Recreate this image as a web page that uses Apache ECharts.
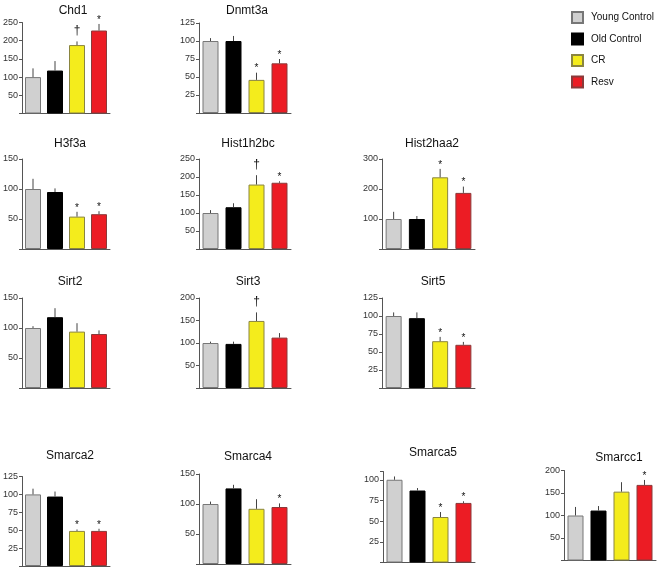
<!DOCTYPE html>
<html>
<head>
<meta charset="utf-8">
<script src="https://cdn.jsdelivr.net/npm/echarts@6/dist/echarts.min.js"></script>
<style>
html,body{margin:0;padding:0;background:#fff;}
#chart{width:661px;height:572px;}
</style>
</head>
<body>
<div id="chart"></div>
<script>
// ---- data ----
const genes = ['Chd1','Dnmt3a','H3f3a','Hist1h2bc','Hist2haa2','Sirt2','Sirt3','Sirt5','Smarca2','Smarca4','Smarca5','Smarcc1'];
const groups = ['Young Control','Old Control','CR','Resv'];
const youngMean = [100,100,100,100,100,100,100,100,100,100,100,100];
const oldMean   = [118,100, 95,116,100,118, 98, 97, 97,126, 87,111];
const crMean    = [188, 46, 54,179,239, 94,149, 65, 49, 92, 55,153];
const resvMean  = [228, 69, 58,184,187, 90,112, 60, 49, 95, 72,168];
const youngErr  = [ 24,  4, 17,  8, 24,  3,  3,  5,  8,  4,  4, 19];
const oldErr    = [ 26,  7,  6, 11, 10, 15,  5,  8,  7,  6,  3, 10];
const crErr     = [ 10, 10,  8, 26, 28, 14, 19,  6,  2, 16,  6, 21];
const resvErr   = [ 18,  6,  5,  4, 21,  6, 10,  4,  3,  6,  2, 11];
const crMark    = ['†','*','*','†','*','','†','*','*','','*',''];
const resvMark  = ['*','*','*','*','*','','','*','*','*','*','*'];
const axisMax   = [250,125,150,250,300,150,200,125,125,150,110,200];
const axisStep  = [ 50, 25, 50, 50,100, 50, 50, 25, 25, 50, 25, 50];

// ---- layout (px): grid left, top, width, height ; title center x, title top ----
const gridPos = [
  [19, 22.5, 91, 91], [199, 23, 92, 90],
  [20, 159, 90, 90], [199, 159, 92, 90], [382, 159, 93, 90],
  [20, 298, 90, 90], [199, 298, 92, 90], [382, 298, 93, 90],
  [20, 476.5, 90, 89.5], [199, 474, 92, 90], [383, 471.5, 92, 91], [564, 470.5, 92, 90]
];
const titlePos = [
  [68, 0], [242, 0],
  [65, 133], [243, 133], [427, 133],
  [65, 271], [243, 271], [428, 271],
  [65, 445], [243, 446], [428, 442], [614, 447]
];
const colors = ['#d0d0d0', '#000000', '#f4ec1c', '#ec1c24'];
const borders = ['#777777', '#000000', '#8a8540', '#8a3a3a'];
const FONT = '"Liberation Sans", Arial, Helvetica, sans-serif';

const means = [youngMean, oldMean, crMean, resvMean];
const errs = [youngErr, oldErr, crErr, resvErr];
const marks = [null, null, crMark, resvMark];

const grid = [], xAxis = [], yAxis = [], series = [], title = [];
genes.forEach((g, i) => {
  const p = gridPos[i];
  grid.push({left: p[0], top: p[1], width: p[2], height: p[3], containLabel: false});
  xAxis.push({
    type: 'category', gridIndex: i, data: groups, boundaryGap: true,
    axisLine: {show: true, lineStyle: {color: '#555', width: 1}},
    axisTick: {show: false}, axisLabel: {show: false}, splitLine: {show: false}
  });
  yAxis.push({
    type: 'value', gridIndex: i, min: 0, max: axisMax[i], interval: axisStep[i],
    axisLine: {show: true, lineStyle: {color: '#555', width: 1}},
    axisTick: {show: true, length: 3, lineStyle: {color: '#555'}},
    splitLine: {show: false},
    axisLabel: {
      fontSize: 9, color: '#333', fontFamily: FONT, margin: 4,
      formatter: v => (v === 0 || v % axisStep[i] !== 0) ? '' : String(v)
    }
  });
  title.push({
    text: g, left: titlePos[i][0], top: titlePos[i][1], textAlign: 'center',
    textStyle: {fontSize: 12, fontWeight: 'normal', color: '#111', fontFamily: FONT}
  });
  groups.forEach((grp, k) => {
    series.push({
      name: grp, type: 'bar', xAxisIndex: i, yAxisIndex: i, stack: 'p' + i,
      barWidth: 16,
      itemStyle: {color: colors[k], borderColor: borders[k], borderWidth: 1},
      data: groups.map((_, j) => j === k ? means[k][i] : '-'),
      z: 2
    });
  });
  const errData = groups.map((_, k) => [k, means[k][i], means[k][i] + errs[k][i]]);
  series.push({
    type: 'custom', xAxisIndex: i, yAxisIndex: i, z: 5, silent: true,
    data: errData,
    renderItem: (params, api) => {
      const k = params.dataIndex;
      const p1 = api.coord([api.value(0), api.value(1)]);
      const p2 = api.coord([api.value(0), api.value(2)]);
      const children = [{
        type: 'line',
        shape: {x1: p1[0], y1: p1[1], x2: p2[0], y2: p2[1]},
        style: {stroke: '#444', lineWidth: 1}
      }];
      const m = marks[k] ? marks[k][i] : '';
      if (m) {
        const dagger = m === '†';
        children.push({
          type: 'text',
          x: p2[0], y: p2[1] - (dagger ? 11 : 4),
          style: {
            text: m, fill: '#111',
            font: (dagger ? '12px ' : '10px ') + FONT,
            align: 'center', verticalAlign: 'middle',
            textAlign: 'center', textVerticalAlign: 'middle'
          }
        });
      }
      return {type: 'group', children};
    }
  });
});

const chart = echarts.init(document.getElementById('chart'), null, {renderer: 'canvas'});
chart.setOption({
  animation: false,
  backgroundColor: '#ffffff',
  title,
  legend: {
    data: groups, orient: 'vertical', left: 566, top: 6,
    itemWidth: 11, itemHeight: 11, itemGap: 8.5, icon: 'rect',
    textStyle: {fontSize: 10, color: '#111', fontFamily: FONT, padding: [0, 0, 0, 3]},
    selectedMode: false
  },
  grid, xAxis, yAxis, series
});
</script>
</body>
</html>
